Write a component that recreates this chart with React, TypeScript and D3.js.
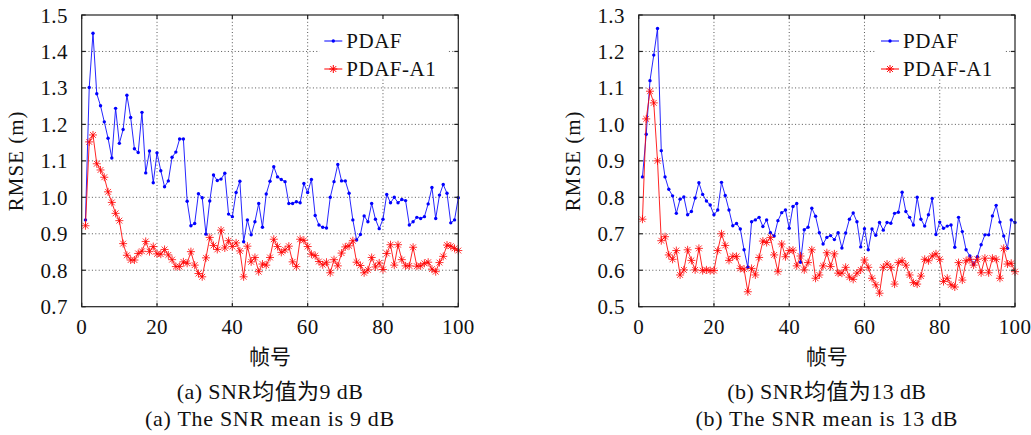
import React from "react";
import * as d3 from "d3";

// RMSE per frame, SNR mean 9 dB
const pdaf9 = [
  0.938, 1.301, 1.45, 1.284, 1.251, 1.207, 1.162, 1.108, 1.244, 1.148,
  1.186, 1.28, 1.219, 1.133, 1.123, 1.233, 1.067, 1.127, 1.04, 1.122,
  1.073, 1.029, 1.045, 1.11, 1.124, 1.16, 1.16, 0.989, 0.922, 0.928,
  1.01, 0.999, 0.899, 0.99, 1.061, 1.046, 1.05, 1.066, 0.954, 0.947,
  1.013, 1.044, 0.878, 0.938, 0.897, 0.933, 0.983, 0.918, 1.009, 1.044,
  1.084, 1.056, 1.049, 1.043, 0.983, 0.983, 0.988, 0.985, 1.038, 1.013,
  1.049, 0.95, 0.924, 0.918, 0.916, 1.0, 1.043, 1.09, 1.045, 1.045,
  1.011, 0.938, 0.883, 0.898, 0.949, 0.933, 0.983, 0.94, 0.914, 0.94,
  1.008, 0.985, 1.0, 0.985, 0.994, 0.991, 0.924, 0.933, 0.945, 0.942,
  0.947, 0.982, 1.027, 0.942, 1.006, 1.035, 1.011, 0.93, 0.938, 0.999,
];
const pdafA1_9 = [
  0.922, 1.152, 1.171, 1.092, 1.075, 1.055, 1.015, 0.986, 0.956, 0.936,
  0.873, 0.841, 0.828, 0.828, 0.846, 0.852, 0.879, 0.851, 0.865, 0.845,
  0.844, 0.857, 0.842, 0.829, 0.81, 0.81, 0.823, 0.819, 0.851, 0.814,
  0.791, 0.782, 0.834, 0.89, 0.868, 0.857, 0.91, 0.861, 0.881, 0.865,
  0.875, 0.853, 0.782, 0.866, 0.823, 0.835, 0.796, 0.817, 0.814, 0.835,
  0.885, 0.865, 0.849, 0.856, 0.866, 0.823, 0.81, 0.885, 0.882, 0.865,
  0.844, 0.84, 0.824, 0.815, 0.822, 0.793, 0.829, 0.812, 0.847, 0.864,
  0.867, 0.881, 0.822, 0.813, 0.793, 0.801, 0.835, 0.809, 0.82, 0.802,
  0.846, 0.87, 0.814, 0.87, 0.829, 0.812, 0.812, 0.863, 0.811, 0.812,
  0.819, 0.822, 0.803, 0.796, 0.821, 0.838, 0.869, 0.866, 0.86, 0.854,
];

// RMSE per frame, SNR mean 13 dB
const pdaf13 = [
  0.856, 0.973, 1.12, 1.19, 1.263, 0.928, 0.856, 0.822, 0.804, 0.756,
  0.795, 0.801, 0.752, 0.761, 0.798, 0.84, 0.808, 0.79, 0.779, 0.752,
  0.765, 0.841, 0.805, 0.765, 0.722, 0.728, 0.713, 0.656, 0.608, 0.733,
  0.738, 0.745, 0.72, 0.738, 0.703, 0.694, 0.736, 0.758, 0.765, 0.715,
  0.775, 0.783, 0.622, 0.711, 0.718, 0.77, 0.748, 0.703, 0.672, 0.69,
  0.695, 0.684, 0.703, 0.661, 0.702, 0.74, 0.757, 0.733, 0.664, 0.714,
  0.656, 0.713, 0.696, 0.731, 0.71, 0.731, 0.729, 0.756, 0.759, 0.814,
  0.761, 0.745, 0.724, 0.8, 0.74, 0.721, 0.752, 0.797, 0.698, 0.732,
  0.715, 0.721, 0.724, 0.663, 0.745, 0.706, 0.656, 0.639, 0.616, 0.637,
  0.67, 0.697, 0.697, 0.749, 0.778, 0.732, 0.694, 0.66, 0.738, 0.731,
];
const pdafA1_13 = [
  0.74, 1.015, 1.091, 1.059, 0.9, 0.681, 0.692, 0.642, 0.63, 0.654,
  0.587, 0.601, 0.656, 0.627, 0.601, 0.66, 0.599, 0.601, 0.599, 0.599,
  0.654, 0.7, 0.668, 0.627, 0.638, 0.638, 0.605, 0.603, 0.541, 0.605,
  0.587, 0.635, 0.68, 0.676, 0.69, 0.642, 0.596, 0.672, 0.637, 0.654,
  0.655, 0.612, 0.639, 0.601, 0.621, 0.656, 0.578, 0.587, 0.612, 0.648,
  0.61, 0.645, 0.592, 0.592, 0.608, 0.581, 0.575, 0.592, 0.601, 0.628,
  0.608, 0.578, 0.56, 0.537, 0.608, 0.617, 0.608, 0.562, 0.621, 0.626,
  0.614, 0.587, 0.566, 0.562, 0.584, 0.63, 0.626, 0.639, 0.645, 0.63,
  0.569, 0.578, 0.56, 0.554, 0.621, 0.573, 0.626, 0.63, 0.614, 0.63,
  0.593, 0.633, 0.593, 0.633, 0.63, 0.578, 0.66, 0.617, 0.619, 0.596,
];

const xTicks = [0, 20, 40, 60, 80, 100];
const yTicks9 = [0.7, 0.8, 0.9, 1.0, 1.1, 1.2, 1.3, 1.4, 1.5];
const yTicks13 = [0.5, 0.6, 0.7, 0.8, 0.9, 1.0, 1.1, 1.2, 1.3];
const seriesNames = ["PDAF", "PDAF-A1"];
const xLabel = "帧号";
const yLabel = "RMSE (m)";
const captions9 = ["(a) SNR均值为9 dB", "(a) The SNR mean is 9 dB"];
const captions13 = ["(b) SNR均值为13 dB", "(b) The SNR mean is 13 dB"];

const W = 1031;
const H = 435;
const TOP = 15;
const BOTTOM = 306.7;
const FONT = "'Liberation Serif', 'Noto Sans CJK SC', serif";
const FS = 21;
const BLUE = "#0000ff";
const RED = "#ff0000";
const STAR = "M-4,0H4M0,-4V4M-2.9,-2.9L2.9,2.9M-2.9,2.9L2.9,-2.9";

type PanelProps = {
  left: number;
  right: number;
  yTicks: number[];
  blue: number[];
  red: number[];
  captions: string[];
};

function Panel({ left, right, yTicks, blue, red, captions }: PanelProps) {
  const x = d3.scaleLinear().domain([0, 100]).range([left, right]);
  const y = d3
    .scaleLinear()
    .domain([yTicks[0], yTicks[yTicks.length - 1]])
    .range([BOTTOM, TOP]);
  const line = d3
    .line<number>()
    .x((_, i) => x(i + 1))
    .y((d) => y(d));
  const cx = (left + right) / 2;
  const cy = (TOP + BOTTOM) / 2;
  const fmt = d3.format(".1f");
  const lgLine0 = right - 134;
  const lgLine1 = right - 116;
  const lgText = right - 112;
  const lgY = [41, 69];

  return (
    <g>
      {/* dotted grid */}
      <g stroke="#444" strokeWidth={0.9} strokeDasharray="1 2.4">
        {xTicks.slice(1, -1).map((t) => (
          <line key={"gx" + t} x1={x(t)} x2={x(t)} y1={TOP} y2={BOTTOM} />
        ))}
        {yTicks.slice(1, -1).map((t) => (
          <line key={"gy" + t} x1={left} x2={right} y1={y(t)} y2={y(t)} />
        ))}
      </g>

      {/* legend background */}
      <rect x={lgLine0 - 5} y={TOP + 1} width={right - 10 - (lgLine0 - 5)} height={62} fill="#fff" />

      {/* series */}
      <path d={line(blue) || ""} fill="none" stroke={BLUE} strokeWidth={1} strokeOpacity={0.85} />
      {blue.map((v, i) => (
        <circle key={"b" + i} cx={x(i + 1)} cy={y(v)} r={1.7} fill={BLUE} />
      ))}
      <path d={line(red) || ""} fill="none" stroke={RED} strokeWidth={1} strokeOpacity={0.85} />
      {red.map((v, i) => (
        <path
          key={"r" + i}
          d={STAR}
          transform={`translate(${x(i + 1)},${y(v)})`}
          stroke={RED}
          strokeWidth={1}
          strokeOpacity={0.8}
          fill="none"
        />
      ))}

      {/* axes box and inward ticks */}
      <g stroke="#222" strokeWidth={1.2} fill="none">
        <rect x={left} y={TOP} width={right - left} height={BOTTOM - TOP} />
        {xTicks.map((t) => (
          <g key={"tx" + t}>
            <line x1={x(t)} x2={x(t)} y1={BOTTOM} y2={BOTTOM - 4} />
            <line x1={x(t)} x2={x(t)} y1={TOP} y2={TOP + 4} />
          </g>
        ))}
        {yTicks.map((t) => (
          <g key={"ty" + t}>
            <line x1={left} x2={left + 4} y1={y(t)} y2={y(t)} />
            <line x1={right} x2={right - 4} y1={y(t)} y2={y(t)} />
          </g>
        ))}
      </g>

      {/* tick labels and titles */}
      <g fontFamily={FONT} fontSize={FS} fill="#111">
        {xTicks.map((t) => (
          <text key={"lx" + t} x={x(t)} y={334} textAnchor="middle" letterSpacing={0.3}>
            {t}
          </text>
        ))}
        {yTicks.map((t) => (
          <text key={"ly" + t} x={left - 14} y={y(t)} dy="0.36em" textAnchor="end" letterSpacing={0.3}>
            {fmt(t)}
          </text>
        ))}
        <text x={cx} y={364} textAnchor="middle">
          {xLabel}
        </text>
        <text
          transform={`translate(${left - 59},${cy}) rotate(-90)`}
          textAnchor="middle"
          letterSpacing={1}
        >
          {yLabel}
        </text>
        <text x={cx} y={399} textAnchor="middle" fontSize={22} letterSpacing={0.4}>
          {captions[0]}
        </text>
        <text x={cx} y={426} textAnchor="middle" fontSize={22} letterSpacing={0.7}>
          {captions[1]}
        </text>
      </g>

      {/* legend */}
      <g>
        <line x1={lgLine0} x2={lgLine1} y1={lgY[0]} y2={lgY[0]} stroke={BLUE} strokeWidth={1} />
        <circle cx={(lgLine0 + lgLine1) / 2} cy={lgY[0]} r={1.7} fill={BLUE} />
        <line x1={lgLine0} x2={lgLine1} y1={lgY[1]} y2={lgY[1]} stroke={RED} strokeWidth={1} />
        <path
          d={STAR}
          transform={`translate(${(lgLine0 + lgLine1) / 2},${lgY[1]})`}
          stroke={RED}
          strokeWidth={1}
          fill="none"
        />
        <g fontFamily={FONT} fontSize={FS} fill="#111" letterSpacing={0.5}>
          <text x={lgText} y={lgY[0]} dy="0.35em">
            {seriesNames[0]}
          </text>
          <text x={lgText} y={lgY[1]} dy="0.35em">
            {seriesNames[1]}
          </text>
        </g>
      </g>
    </g>
  );
}

export default function App() {
  return (
    <svg
      width={W}
      height={H}
      style={{ position: "absolute", left: 0, top: 0, background: "#fff" }}
    >
      <rect width={W} height={H} fill="#fff" />
      <Panel left={81.7} right={458.3} yTicks={yTicks9} blue={pdaf9} red={pdafA1_9} captions={captions9} />
      <Panel left={638.7} right={1015} yTicks={yTicks13} blue={pdaf13} red={pdafA1_13} captions={captions13} />
    </svg>
  );
}
